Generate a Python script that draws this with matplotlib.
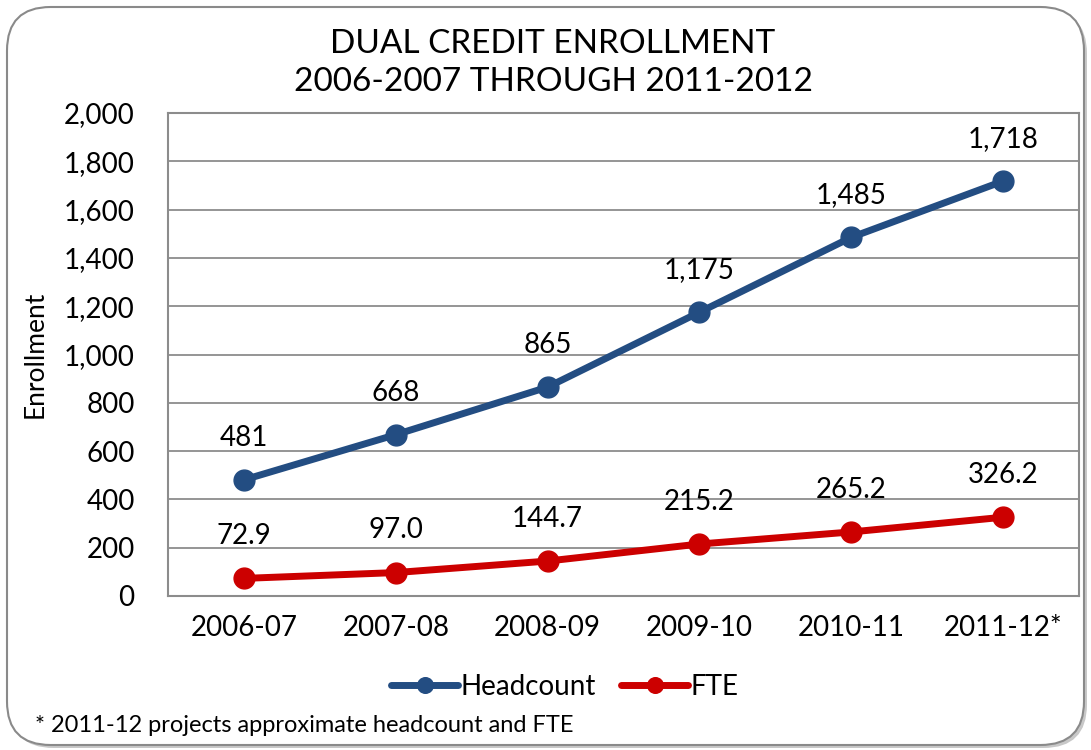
import matplotlib
matplotlib.use("Agg")
import matplotlib.pyplot as plt
from matplotlib.patches import FancyBboxPatch
from matplotlib.ticker import FuncFormatter, MultipleLocator

plt.rcParams['font.family'] = ['Lato', 'DejaVu Sans']

years = ["2006-07", "2007-08", "2008-09", "2009-10", "2010-11", "2011-12*"]
headcount = [481, 668, 865, 1175, 1485, 1718]
fte = [72.9, 97.0, 144.7, 215.2, 265.2, 326.2]
headcount_labels = ["481", "668", "865", "1,175", "1,485", "1,718"]
fte_labels = ["72.9", "97.0", "144.7", "215.2", "265.2", "326.2"]

W, H = 1091, 750
fig = plt.figure(figsize=(W / 100, H / 100), dpi=100)

# rounded frame with shadow
shadow = FancyBboxPatch((10 / W, 2 / H), 1077 / W, 738 / H,
                        boxstyle="round,pad=0,rounding_size=0.04",
                        transform=fig.transFigure, facecolor="#c8c8c8",
                        edgecolor="none", zorder=0, mutation_aspect=W / H)
fig.patches.append(shadow)
frame = FancyBboxPatch((7 / W, 5 / H), 1077 / W, 738 / H,
                       boxstyle="round,pad=0,rounding_size=0.04",
                       transform=fig.transFigure, facecolor="white",
                       edgecolor="#8a8a8a", linewidth=1.5, zorder=1,
                       mutation_aspect=W / H)
fig.patches.append(frame)

ax = fig.add_axes([168 / W, 1 - 596 / H, (1079 - 168) / W, (596 - 113) / H])
ax.set_zorder(2)
ax.patch.set_alpha(0)

x = list(range(len(years)))
blue = "#234d82"
red = "#cc0000"
ax.plot(x, headcount, color=blue, lw=5, marker="o", ms=15,
        solid_capstyle="round", label="Headcount", zorder=3)
ax.plot(x, fte, color=red, lw=5, marker="o", ms=15,
        solid_capstyle="round", label="FTE", zorder=3)

for xi, v, t in zip(x, headcount, headcount_labels):
    ax.annotate(t, (xi, v), xytext=(0, 21), textcoords="offset points",
                ha="center", va="bottom", fontsize=20, color="black")
for xi, v, t in zip(x, fte, fte_labels):
    ax.annotate(t, (xi, v), xytext=(0, 21), textcoords="offset points",
                ha="center", va="bottom", fontsize=20, color="black")

ax.set_xlim(-0.5, len(years) - 0.5)
ax.set_ylim(0, 2000)
ax.yaxis.set_major_locator(MultipleLocator(200))
ax.yaxis.set_major_formatter(FuncFormatter(lambda v, p: f"{int(v):,}"))
ax.set_xticks(x)
ax.set_xticklabels(years)
ax.tick_params(axis="both", length=0, labelsize=20, colors="black")
ax.tick_params(axis="x", pad=14)
ax.tick_params(axis="y", pad=24)
ax.grid(axis="y", color="#8c8c8c", lw=1.3)
for s in ax.spines.values():
    s.set_color("#8c8c8c")
    s.set_linewidth(1.5)
ax.set_ylabel("Enrollment", fontsize=19, labelpad=12)

fig.text(553 / W, 1 - 63 / H, "DUAL CREDIT ENROLLMENT\n2006-2007 THROUGH 2011-2012",
         ha="center", va="center", fontsize=24, linespacing=1.3)

fig.legend(loc="center", bbox_to_anchor=(565 / W, 1 - 687 / H), ncol=2,
           frameon=False, fontsize=20, handlelength=2.4, columnspacing=0.9,
           handletextpad=0.1, markerscale=0.75)

fig.text(35 / W, 1 - 725 / H, "* 2011-12 projects approximate headcount and FTE",
         ha="left", va="center", fontsize=17)

fig.savefig("out.png", dpi=100)
